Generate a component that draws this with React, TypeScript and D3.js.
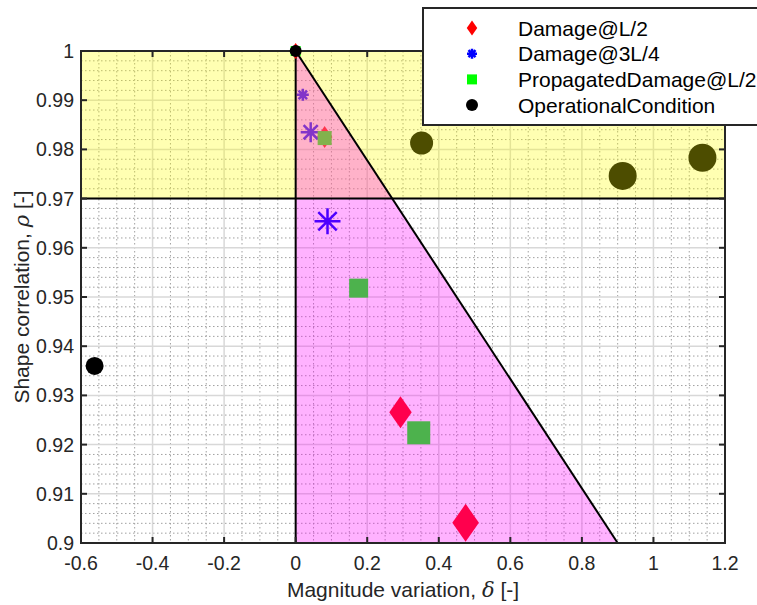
import * as d3 from "d3";

// chart box inside the 757x605 picture
const W = 757;
const H = 605;
const margin = { top: 51, right: 32, bottom: 62, left: 81 };
const plotW = W - margin.left - margin.right;
const plotH = H - margin.top - margin.bottom;

// axis ticks
const xTicks = [-0.6, -0.4, -0.2, 0, 0.2, 0.4, 0.6, 0.8, 1, 1.2];
const yTicks = [0.9, 0.91, 0.92, 0.93, 0.94, 0.95, 0.96, 0.97, 0.98, 0.99, 1];

// threshold zones
const rhoLimit = 0.97;
const deltaLimit = 0.9;

// Damage@L/2 (red diamonds)
const dlDelta = [0, 0.081, 0.293, 0.475];
const dlRho = [1, 0.9825, 0.9266, 0.9041];
const dlSize = [8, 11, 16, 19];

// Damage@3L/4 (blue asterisks)
const d34Delta = [0, 0.02, 0.042, 0.089];
const d34Rho = [1, 0.9911, 0.9835, 0.9654];
const d34Size = [4, 6, 10, 13];

// PropagatedDamage@L/2 (green squares)
const pdDelta = [0, 0.081, 0.176, 0.344];
const pdRho = [1, 0.9823, 0.9518, 0.9224];
const pdSize = [5, 7, 9.5, 11.5];

// OperationalCondition (black circles)
const opDelta = [0, -0.562, 0.352, 0.914, 1.137];
const opRho = [1, 0.936, 0.9813, 0.9746, 0.9783];
const opSize = [6, 9, 11.5, 14, 14];

const legendNames = ["Damage@L/2", "Damage@3L/4", "PropagatedDamage@L/2", "OperationalCondition"];

type Pt = { x: number; y: number; s: number };
const zip = (xs: number[], ys: number[], ss: number[]): Pt[] =>
  xs.map((x, i) => ({ x, y: ys[i], s: ss[i] }));

const series = [
  { name: legendNames[0], shape: "diamond", color: "#ff0000", pts: zip(dlDelta, dlRho, dlSize) },
  { name: legendNames[1], shape: "asterisk", color: "#0000ff", pts: zip(d34Delta, d34Rho, d34Size) },
  { name: legendNames[2], shape: "square", color: "#00ff00", pts: zip(pdDelta, pdRho, pdSize) },
  { name: legendNames[3], shape: "circle", color: "#000000", pts: zip(opDelta, opRho, opSize) },
];

const x = d3.scaleLinear().domain([-0.6, 1.2]).range([0, plotW]);
const y = d3.scaleLinear().domain([0.9, 1]).range([plotH, 0]);

const xMinor = d3.range(-0.6, 1.2001, 0.05).filter((v) => !xTicks.some((t) => Math.abs(t - v) < 1e-6));
const yMinor = d3.range(0.9, 1.0001, 0.002).filter((v) => !yTicks.some((t) => Math.abs(t - v) < 1e-6));

const fmt = (v: number) => String(+v.toFixed(2));

function Marker({ shape, color, s, cx, cy }: { shape: string; color: string; s: number; cx: number; cy: number }) {
  if (shape === "circle") return <circle cx={cx} cy={cy} r={s} fill={color} />;
  if (shape === "square")
    return <rect x={cx - s} y={cy - s} width={2 * s} height={2 * s} fill={color} />;
  if (shape === "diamond") {
    const w = s * 0.7;
    return <path d={`M${cx},${cy - s}L${cx + w},${cy}L${cx},${cy + s}L${cx - w},${cy}Z`} fill={color} />;
  }
  const d = s * 0.7071;
  return (
    <path
      d={`M${cx - s},${cy}L${cx + s},${cy}M${cx},${cy - s}L${cx},${cy + s}M${cx - d},${cy - d}L${cx + d},${cy + d}M${cx - d},${cy + d}L${cx + d},${cy - d}`}
      stroke={color}
      strokeWidth={2.5}
      fill="none"
    />
  );
}

export default function App() {
  const font = "'Liberation Sans', Arial, Helvetica, sans-serif";
  const zone = [
    [x(0), y(1)],
    [x(deltaLimit), y(0.9)],
    [x(0), y(0.9)],
  ];

  const below = series.map((sr) => ({ ...sr, pts: sr.pts.filter((p) => p.y < 1) }));
  const above = series.map((sr) => ({ ...sr, pts: sr.pts.filter((p) => p.y >= 1) }));

  return (
    <>
      <style>{"body{margin:0}"}</style>
      <svg width={W} height={H} style={{ display: "block", background: "#fff" }} fontFamily={font}>
        <g transform={`translate(${margin.left},${margin.top})`}>
          {/* minor grid */}
          {xMinor.map((v, i) => (
            <line key={"xm" + i} x1={x(v)} x2={x(v)} y1={0} y2={plotH} stroke="#a0a0a0" strokeWidth={1} strokeDasharray="1.5 2.5" />
          ))}
          {yMinor.map((v, i) => (
            <line key={"ym" + i} y1={y(v)} y2={y(v)} x1={0} x2={plotW} stroke="#a0a0a0" strokeWidth={1} strokeDasharray="1.5 2.5" />
          ))}
          {/* major grid */}
          {xTicks.map((v, i) => (
            <line key={"xg" + i} x1={x(v)} x2={x(v)} y1={0} y2={plotH} stroke="#d8d8d8" strokeWidth={1.5} />
          ))}
          {yTicks.map((v, i) => (
            <line key={"yg" + i} y1={y(v)} y2={y(v)} x1={0} x2={plotW} stroke="#d8d8d8" strokeWidth={1.5} />
          ))}

          {/* markers under the shaded zones */}
          {below.map((sr) =>
            sr.pts.map((p, i) => (
              <Marker key={sr.name + i} shape={sr.shape} color={sr.color} s={p.s} cx={x(p.x)} cy={y(p.y)} />
            ))
          )}

          {/* shaded zones */}
          <rect x={0} y={y(1)} width={plotW} height={y(rhoLimit) - y(1)} fill="#ffff00" fillOpacity={0.3} />
          <path d={d3.line()(zone as [number, number][]) + "Z"} fill="#ff00ff" fillOpacity={0.3} />

          {/* boundary lines */}
          <line x1={0} x2={plotW} y1={y(rhoLimit)} y2={y(rhoLimit)} stroke="#000" strokeWidth={2} />
          <line x1={x(0)} x2={x(0)} y1={y(1)} y2={y(0.9)} stroke="#000" strokeWidth={2} />
          <line x1={x(0)} x2={x(deltaLimit)} y1={y(1)} y2={y(0.9)} stroke="#000" strokeWidth={2} />

          {/* axes box and inward ticks */}
          <rect x={0} y={0} width={plotW} height={plotH} fill="none" stroke="#262626" strokeWidth={2} />
          {xTicks.map((v, i) => (
            <g key={"xt" + i}>
              <line x1={x(v)} x2={x(v)} y1={plotH} y2={plotH - 6} stroke="#262626" strokeWidth={2} />
              <line x1={x(v)} x2={x(v)} y1={0} y2={6} stroke="#262626" strokeWidth={2} />
              <text x={x(v)} y={plotH + 20} textAnchor="middle" dominantBaseline="central" fontSize={19.5} fill="#262626">
                {fmt(v)}
              </text>
            </g>
          ))}
          {yTicks.map((v, i) => (
            <g key={"yt" + i}>
              <line x1={0} x2={6} y1={y(v)} y2={y(v)} stroke="#262626" strokeWidth={2} />
              <line x1={plotW} x2={plotW - 6} y1={y(v)} y2={y(v)} stroke="#262626" strokeWidth={2} />
              <text x={-7} y={y(v)} textAnchor="end" dominantBaseline="central" fontSize={19.5} fill="#262626">
                {fmt(v)}
              </text>
            </g>
          ))}

          {/* markers at the reference point, drawn on top */}
          {above.map((sr) =>
            sr.pts.map((p, i) => (
              <Marker key={"a" + sr.name + i} shape={sr.shape} color={sr.color} s={p.s} cx={x(p.x)} cy={y(p.y)} />
            ))
          )}

          {/* axis labels */}
          <text x={plotW / 2} y={plotH + 54} textAnchor="middle" fontSize={21} fill="#262626">
            Magnitude variation, <tspan fontStyle="italic" fontFamily="'DejaVu Serif', serif">δ</tspan> [-]
          </text>
          <text
            transform={`translate(${-52},${plotH / 2}) rotate(-90)`}
            textAnchor="middle"
            fontSize={21}
            fill="#262626"
          >
            Shape correlation, <tspan fontStyle="italic" fontFamily="'DejaVu Serif', serif">ρ</tspan> [-]
          </text>
        </g>

        {/* legend */}
        <g transform="translate(423,8)">
          <rect x={0} y={0} width={360} height={117} fill="#fff" stroke="#262626" strokeWidth={2} />
          {series.map((sr, i) => (
            <g key={"lg" + i} transform={`translate(0,${20 + i * 25.7})`}>
              <Marker
                shape={sr.shape}
                color={sr.color}
                s={sr.shape === "diamond" ? 7.5 : sr.shape === "asterisk" ? 5 : sr.shape === "square" ? 5 : 6}
                cx={49}
                cy={0}
              />
              <text x={95} y={0} dominantBaseline="central" fontSize={21} fill="#000">
                {sr.name}
              </text>
            </g>
          ))}
        </g>
      </svg>
    </>
  );
}
